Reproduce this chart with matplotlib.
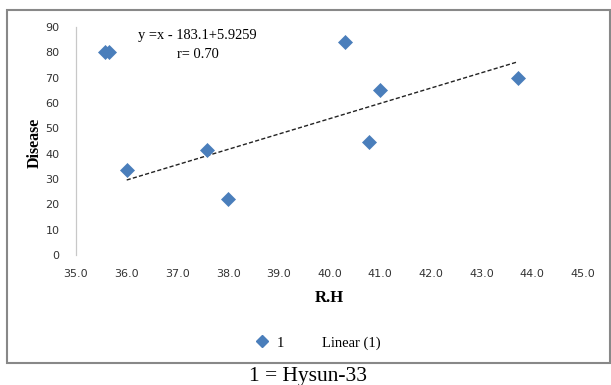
import matplotlib
matplotlib.use("Agg")
import matplotlib.pyplot as plt
from matplotlib.patches import Rectangle
from matplotlib.lines import Line2D

# valori
rh = [35.58, 35.66, 36.0, 37.58, 38.0, 40.3, 40.78, 41.0, 43.72]
disease = [80, 80, 33.5, 41.5, 22, 84, 44.5, 65, 70]
trend_x = [36.0, 43.72]
trend_y = [29.6, 76.3]
xticks = [35, 36, 37, 38, 39, 40, 41, 42, 43, 44, 45]
yticks = [0, 10, 20, 30, 40, 50, 60, 70, 80, 90]

W, H = 611, 385
fig = plt.figure(figsize=(W / 100, H / 100), dpi=100)
ax = fig.add_axes([76 / W, 1 - 255 / H, (583 - 76) / W, (255 - 27) / H])

blue = "#4a7ebb"
ax.plot(rh, disease, linestyle="none", marker="D", ms=7, color=blue,
        markeredgecolor=blue, markeredgewidth=0.5, label="1", zorder=3)
ax.plot(trend_x, trend_y, color="#222222", lw=1.0, linestyle=(0, (3, 1.6)), zorder=2)

ax.set_xlim(35, 45)
ax.set_ylim(0, 90)
ax.set_xticks(xticks)
ax.set_xticklabels(["%.1f" % v for v in xticks])
ax.set_yticks(yticks)
ax.tick_params(length=0, labelsize=8, colors="#333333", pad=10)
ax.tick_params(axis="y", pad=12)
for s in ["top", "right", "bottom"]:
    ax.spines[s].set_visible(False)
ax.spines["left"].set_color("#c8c8c8")
ax.spines["left"].set_linewidth(0.9)

serif = "Liberation Serif"
ax.set_xlabel("R.H", fontfamily=serif, fontweight="bold", fontsize=12, labelpad=8)
fig.text(35 / W, 1 - 143 / H, "Disease", rotation=90, ha="center", va="center",
         fontfamily=serif, fontweight="bold", fontsize=11.5)

fig.text(197 / W, 1 - 35 / H, "y =x - 183.1+5.9259", ha="center", va="center",
         fontfamily=serif, fontsize=10.4)
fig.text(198 / W, 1 - 54 / H, "r= 0.70", ha="center", va="center",
         fontfamily=serif, fontsize=10.4)

handles = [Line2D([], [], linestyle="none", marker="D", ms=6.5, color=blue),
           Line2D([], [], linestyle="none")]
fig.legend(handles, ["1", "Linear (1)"], loc="center", ncol=2, frameon=False,
           bbox_to_anchor=(316 / W, 1 - 343 / H), prop={"family": serif, "size": 10.5},
           columnspacing=0.9, handlelength=1.4, handletextpad=0.3)

fig.patches.append(Rectangle((7 / W, 1 - 363 / H), (610 - 7) / W, (363 - 10) / H,
                             transform=fig.transFigure, fill=False,
                             edgecolor="#888888", lw=1.5))

fig.text(308 / W, 1 - 376 / H, "1 = Hysun-33", ha="center", va="center",
         fontfamily=serif, fontsize=15.5)

fig.savefig("out.png", dpi=100)
